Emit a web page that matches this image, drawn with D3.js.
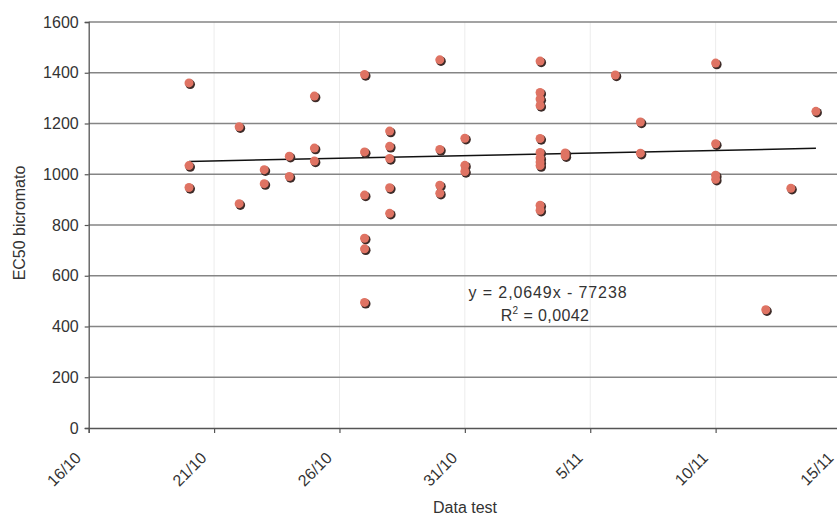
<!DOCTYPE html>
<html>
<head>
<meta charset="utf-8">
<script src="https://cdn.jsdelivr.net/npm/d3@7"></script>
<style>
  html, body { margin: 0; padding: 0; background: #fff; }
  svg { display: block; }
  text { font-family: "Liberation Sans", Arial, Helvetica, sans-serif; fill: #333; }
</style>
</head>
<body>
<svg id="chart" width="837" height="516"></svg>
<script>
// ---- data (year 2003, day/month) ----
const testDates = [
  "20/10","20/10","20/10",
  "22/10","22/10",
  "23/10","23/10",
  "24/10","24/10",
  "25/10","25/10","25/10",
  "27/10","27/10","27/10","27/10","27/10","27/10",
  "28/10","28/10","28/10","28/10","28/10",
  "30/10","30/10","30/10","30/10",
  "31/10","31/10","31/10",
  "3/11","3/11","3/11","3/11","3/11","3/11","3/11","3/11","3/11","3/11","3/11",
  "4/11","4/11",
  "6/11",
  "7/11","7/11",
  "10/11","10/11","10/11","10/11",
  "12/11",
  "13/11",
  "14/11"
];
const ec50Values = [
  1360, 1034, 948,
  1187, 884,
  1018, 963,
  1071, 991,
  1308, 1103, 1052,
  1393, 1088, 918, 748, 706, 495,
  1170, 1110, 1062, 947, 846,
  1451, 1098, 957, 925,
  1142, 1035, 1011,
  1446, 1322, 1297, 1271, 1141, 1086, 1064, 1048, 1034, 878, 858,
  1084, 1073,
  1391,
  1206, 1083,
  1438, 1120, 996, 980,
  466,
  945,
  1248
];
const xTickLabels = ["16/10","21/10","26/10","31/10","5/11","10/11","15/11"];
const yTickValues = [0, 200, 400, 600, 800, 1000, 1200, 1400, 1600];
const trendCoefficients = [2.0649, -77238]; // slope, intercept (Excel date serial)
const trendLabels = ["y = 2,0649x - 77238", "R", "2", " = 0,0042"];
const dataYear = 2003;

// ---- helpers ----
const parseDM = s => { const [d, m] = s.split("/").map(Number); return new Date(Date.UTC(dataYear, m - 1, d)); };
const excelSerial = dt => (dt - Date.UTC(1899, 11, 30)) / 86400000;

const data = testDates.map((s, i) => ({ date: parseDM(s), value: ec50Values[i] }));
const tickDates = xTickLabels.map(parseDM);

const svg = d3.select("#chart");
const pLeft = 88.7, pRight = 841, pTop = 22, pBottom = 428;

const x = d3.scaleUtc().domain([tickDates[0], tickDates[tickDates.length - 1]]).range([pLeft, pRight]);
const y = d3.scaleLinear().domain([0, 1600]).range([pBottom, pTop]);

// vertical faint gridlines
svg.append("g").selectAll("line").data(tickDates.slice(1)).join("line")
  .attr("x1", d => x(d)).attr("x2", d => x(d))
  .attr("y1", pTop).attr("y2", pBottom)
  .attr("stroke", "#ececec").attr("stroke-width", 1);

// horizontal gridlines
svg.append("g").selectAll("line").data(yTickValues.slice(1)).join("line")
  .attr("x1", pLeft).attr("x2", pRight)
  .attr("y1", d => y(d)).attr("y2", d => y(d))
  .attr("stroke", "#858585").attr("stroke-width", 1.4);

// y axis
const yAxis = svg.append("g")
  .attr("transform", `translate(${pLeft},0)`)
  .call(d3.axisLeft(y).tickValues(yTickValues).tickSize(4).tickPadding(6).tickFormat(d3.format("d")));
yAxis.select(".domain").attr("stroke", "#555").attr("stroke-width", 1.3);
yAxis.selectAll(".tick line").attr("stroke", "#555").attr("stroke-width", 1.2);
yAxis.selectAll(".tick text").attr("font-size", 16).attr("fill", "#333")
  .style("font-family", '"Liberation Sans", Arial, sans-serif');

// x axis
const xAxis = svg.append("g")
  .attr("transform", `translate(0,${pBottom})`)
  .call(d3.axisBottom(x).tickValues(tickDates).tickSize(5).tickFormat((d, i) => xTickLabels[i]));
xAxis.select(".domain").attr("stroke", "#555").attr("stroke-width", 1.3);
xAxis.selectAll(".tick line").attr("stroke", "#555").attr("stroke-width", 1.2);
xAxis.selectAll(".tick text")
  .attr("font-size", 16).attr("fill", "#333")
  .style("font-family", '"Liberation Sans", Arial, sans-serif')
  .attr("text-anchor", "end")
  .attr("x", 0).attr("y", 0).attr("dy", "0.35em")
  .attr("transform", "translate(-11,27) rotate(-45)");

// trend line
const first = d3.min(data, d => d.date), last = d3.max(data, d => d.date);
const trend = [first, last].map(dt => ({ date: dt, value: trendCoefficients[0] * excelSerial(dt) + trendCoefficients[1] }));
svg.append("path")
  .datum(trend)
  .attr("d", d3.line().x(d => x(d.date)).y(d => y(d.value)))
  .attr("fill", "none").attr("stroke", "#111").attr("stroke-width", 1.5);

// points: shadow then fill
const pts = svg.append("g");
pts.selectAll("circle.shadow").data(data).join("circle").attr("class", "shadow")
  .attr("cx", d => x(d.date) + 1.2).attr("cy", d => y(d.value) + 1.4).attr("r", 4.8)
  .attr("fill", "#3d2b28");
pts.selectAll("circle.dot").data(data).join("circle").attr("class", "dot")
  .attr("cx", d => x(d.date)).attr("cy", d => y(d.value)).attr("r", 4.5)
  .attr("fill", "#df7363");

// equation text
svg.append("text").attr("x", 548).attr("y", 298).attr("text-anchor", "middle")
  .attr("font-size", 16).attr("letter-spacing", 0.9).text(trendLabels[0]);
const r2 = svg.append("text").attr("x", 545).attr("y", 321).attr("text-anchor", "middle")
  .attr("font-size", 16).attr("letter-spacing", 0.4);
r2.append("tspan").text(trendLabels[1]);
r2.append("tspan").attr("font-size", 10).attr("dy", -7).text(trendLabels[2]);
r2.append("tspan").attr("dy", 7).text(trendLabels[3]);

// axis titles
svg.append("text").attr("x", 465).attr("y", 513).attr("text-anchor", "middle")
  .attr("font-size", 16).text("Data test");
svg.append("text").attr("transform", "translate(25,223) rotate(-90)").attr("text-anchor", "middle")
  .attr("font-size", 16).text("EC50 bicromato");
</script>
</body>
</html>
